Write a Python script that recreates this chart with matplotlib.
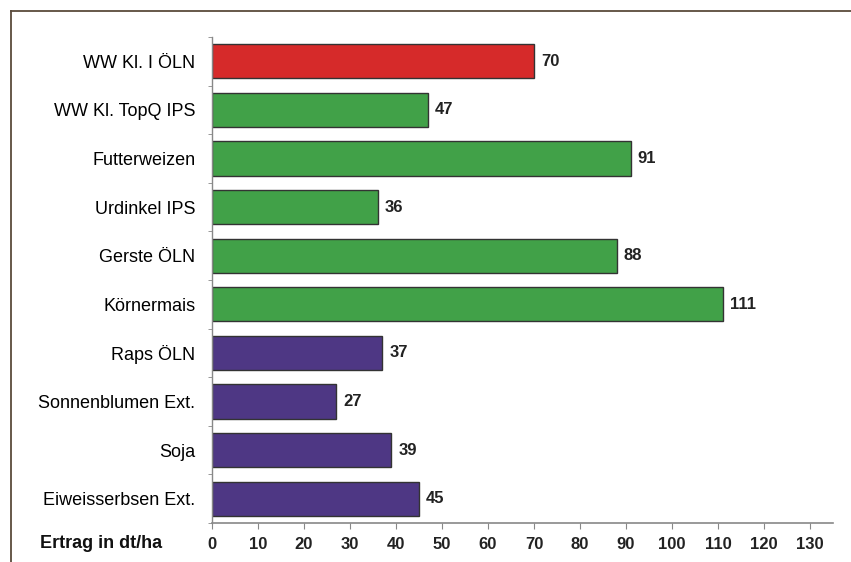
import numpy as np
import matplotlib
matplotlib.use('Agg')
import matplotlib.pyplot as plt
from matplotlib import rcParams
from matplotlib.lines import Line2D

rcParams['font.family'] = 'Liberation Sans'

# Data
categories = ['WW Kl. I ÖLN', 'WW Kl. TopQ IPS', 'Futterweizen', 'Urdinkel IPS',
              'Gerste ÖLN', 'Körnermais', 'Raps ÖLN', 'Sonnenblumen Ext.',
              'Soja', 'Eiweisserbsen Ext.']
values = [70, 47, 91, 36, 88, 111, 37, 27, 39, 45]
groups = ['red', 'green', 'green', 'green', 'green', 'green',
          'purple', 'purple', 'purple', 'purple']
xticks = list(range(0, 131, 10))

colors = {'red': '#d62a2a', 'green': '#41a148', 'purple': '#4e3784'}

fig = plt.figure(figsize=(8.51, 5.62), dpi=100)
ax = fig.add_axes([212 / 851, 1 - 523 / 562, (833 - 212) / 851, (523 - 37) / 562])

y = np.arange(len(categories))
ax.barh(y, values, height=0.7, color=[colors[g] for g in groups],
        edgecolor='#333333', linewidth=1.0)

for yi, v in zip(y, values):
    ax.annotate(str(v), (v, yi), xytext=(5, 0), textcoords='offset points',
                va='center', ha='left', fontsize=12, fontweight='bold', color='#222222')

ax.set_xlim(0, 135)
ax.set_ylim(len(categories) - 0.5, -0.5)

ax.set_yticks(y)
ax.set_yticklabels(categories, fontsize=13, color='#000000')
ax.tick_params(axis='y', which='major', length=0, pad=12)
ax.set_yticks(np.arange(-0.5, len(categories), 1), minor=True)
ax.tick_params(axis='y', which='minor', length=3, color='#888888', direction='out')

ax.set_xticks(xticks)
ax.set_xticklabels([str(t) for t in xticks], fontsize=12, fontweight='bold', color='#222222')
ax.tick_params(axis='x', length=4, color='#888888', direction='out', pad=6)

for s in ['top', 'right']:
    ax.spines[s].set_visible(False)
ax.spines['bottom'].set_color('#888888')
ax.spines['left'].set_color('#888888')
ax.spines['bottom'].set_linewidth(1.2)
ax.spines['left'].set_linewidth(1.0)

fig.text(40 / 851, 1 - 543 / 562, 'Ertrag in dt/ha', ha='left', va='center',
         fontsize=13, fontweight='bold', color='#111111')

# outer frame (top and left edges)
frame_col = '#5a4b3c'
fig.add_artist(Line2D([11 / 851, 1], [1 - 11 / 562, 1 - 11 / 562], color=frame_col, lw=1.3,
                      transform=fig.transFigure))
fig.add_artist(Line2D([11 / 851, 11 / 851], [0, 1 - 11 / 562], color=frame_col, lw=1.3,
                      transform=fig.transFigure))

fig.savefig('out.png', dpi=100)
